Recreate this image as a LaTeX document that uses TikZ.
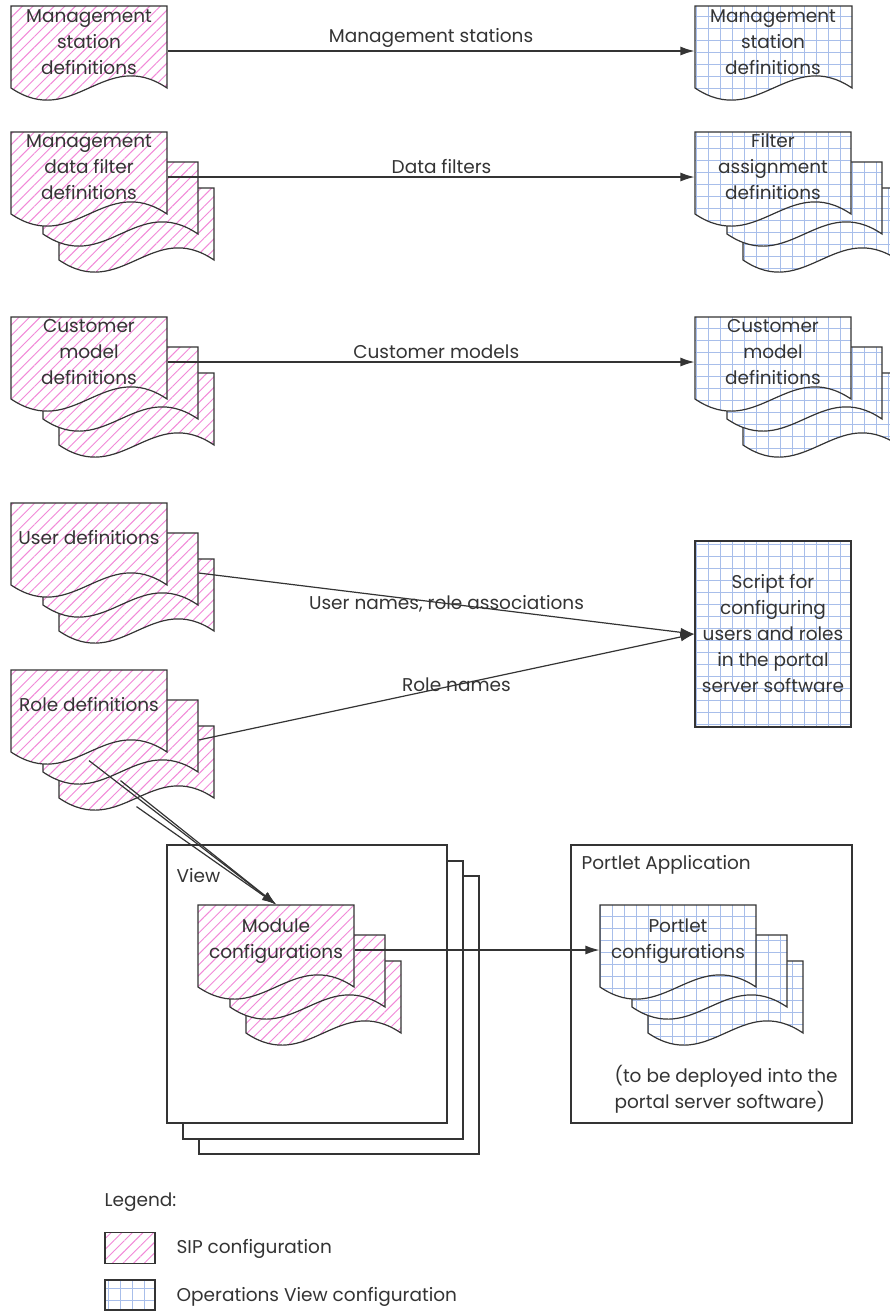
\documentclass[tikz,border=0pt]{standalone}
\usepackage{fontspec}
\setmainfont{Poppins}
\usepackage{tikz}
\usetikzlibrary{patterns.meta}
\usetikzlibrary{arrows,arrows.meta,positioning}
\definecolor{sippink}{RGB}{242,136,216}
\definecolor{opsblue}{RGB}{168,190,234}
\definecolor{inkgray}{RGB}{52,52,52}
\newcommand\doclabel{\fontsize{18.5}{26}\selectfont}
\tikzset{
  sip/.style={draw=inkgray,line width=1.2pt,preaction={fill=white},
    pattern={Lines[angle=45,distance=7.5pt,line width=0.95pt]},pattern color=sippink},
  ops/.style={draw=inkgray,line width=1.2pt,preaction={fill=white},
    pattern={Hatch[angle=0,distance=12pt,line width=0.85pt]},pattern color=opsblue},
  frame/.style={draw=inkgray,line width=1.2pt,fill=white,inner sep=0},
  flow/.style={-{Latex[length=14pt,width=9pt]}},
}
% one page: style, name, x, y, width, height
\newcommand\docpage[6]{%
  \draw[#1] ({#3},{#4}) -- ({#3+#5},{#4}) -- ({#3+#5},{#4+#6})
    .. controls ({#3+0.6*#5},{#4+#6-42}) and ({#3+0.4*#5},{#4+#6+42}) .. ({#3},{#4+#6}) -- cycle;
  \node[inner sep=0,minimum width=#5,minimum height={#6+8}] (#2) at ({#3+0.5*#5},{#4+0.5*#6+4}) {};}
% three pages, front one at x, y
\newcommand\docstack[4]{%
  \docpage{#1}{#2c}{#3+48}{#4+56}{155}{72}%
  \docpage{#1}{#2b}{#3+32}{#4+30}{155}{72}%
  \docpage{#1}{#2}{#3}{#4}{156}{82}}

\begin{document}
\begin{tikzpicture}[x=1pt,y=-1pt,color=inkgray,line width=1.2pt,font=\doclabel,align=center]
        \useasboundingbox (0,0) rectangle (889,1312);
        \fill[white] (0,0) rectangle (889,1312);
        % view and portlet application boxes
        \node[frame,minimum width=280,minimum height=278] (vw3) at (339,1015) {}; %%
        \node[frame,minimum width=280,minimum height=278] (vw2) at (323,1000) {}; %%
        \node[frame,minimum width=280,minimum height=278] (vw1) at (307,984) {}; %%
        \node[frame,minimum width=281,minimum height=278] (pa) at (711.5,984) {}; %%
        % SIP pages
        \docpage{sip}{msd}{11}{6}{156}{82}
        \docstack{sip}{mdf}{11}{132}
        \docstack{sip}{cmd}{11}{317}
        \docstack{sip}{usd}{11}{503}
        \docstack{sip}{rld}{11}{670}
        \docstack{sip}{mod}{198}{905}
        % operations view pages
        \docpage{ops}{msr}{695}{6}{157}{82}
        \docstack{ops}{fad}{695}{132}
        \docstack{ops}{cmr}{695}{317}
        \docstack{ops}{pc}{600}{905}
        \node[ops,minimum width=156,minimum height=186,inner sep=0] (scr) at (773,634)
          {Script for\\configuring\\users and roles\\in the portal\\server software}; %%
        \begin{scope}[inner sep=2pt]
        \tikzstyle{every node}=[font=\doclabel] %%
        \node (msd-t) at (89,42) {Management\\station\\definitions}; %%
        \node (mdf-t) at (89,167) {Management\\data filter\\definitions}; %%
        \node (cmd-t) at (89,352) {Customer\\model\\definitions}; %%
        \node (usd-t) at (89,538) {User definitions}; %%
        \node (rld-t) at (89,705) {Role definitions}; %%
        \node (msr-t) at (773,42) {Management\\station\\definitions}; %%
        \node (fad-t) at (773,167) {Filter\\assignment\\definitions}; %%
        \node (cmr-t) at (773,352) {Customer\\model\\definitions}; %%
        \node (mod-t) at (276,941) {Module\\configurations}; %%
        \node (pc-t) at (678,941) {Portlet\\configurations}; %%
        \node[anchor=west] (vw-t) at (174,876) {View}; %%
        \node[anchor=west] (pa-t) at (579,865) {Portlet Application}; %%
        \node[anchor=west,align=left] (dep-t) at (612,1089) {(to be deployed into the\\portal server software)}; %%
        \end{scope}
        % legend
        \node[anchor=west,inner sep=2pt] (lg-t) at (102,1202) {Legend:}; %%
        \node[sip,minimum width=50,minimum height=31,inner sep=0] (lgsip) at (130,1248) {}; %%
        \node[anchor=west,inner sep=2pt] (lgsip-t) at (174,1249) {SIP configuration}; %%
        \node[ops,minimum width=50,minimum height=30,inner sep=0] (lgops) at (130,1295) {}; %%
        \node[anchor=west,inner sep=2pt] (lgops-t) at (174,1297) {Operations View configuration}; %%
        % connectors
        \draw[flow] (msd)--(msr) node[midway,above,inner sep=3pt] {Management stations}; %%
        \draw[flow] (mdf)--(fad) node[pos=.52,above,inner sep=3pt] {Data filters}; %%
        \draw[flow] (cmd)--(cmr) node[pos=.51,above,inner sep=3pt] {Customer models}; %%
        \draw[flow] (usdb.east)--(scr.west) node[midway,inner sep=2pt] {User names, role associations}; %%
        \draw[flow] (rldb.east)--(scr.west) node[pos=.52,inner sep=2pt] {Role names}; %%
        \draw[flow] (rld.south)--(mod.north); %%
        \draw[flow] (rldb.south)--(mod.north); %%
        \draw[flow] (rldc.south)--(mod.north); %%
        \draw[flow] (mod)--(pc); %%
\end{tikzpicture}
\end{document}
